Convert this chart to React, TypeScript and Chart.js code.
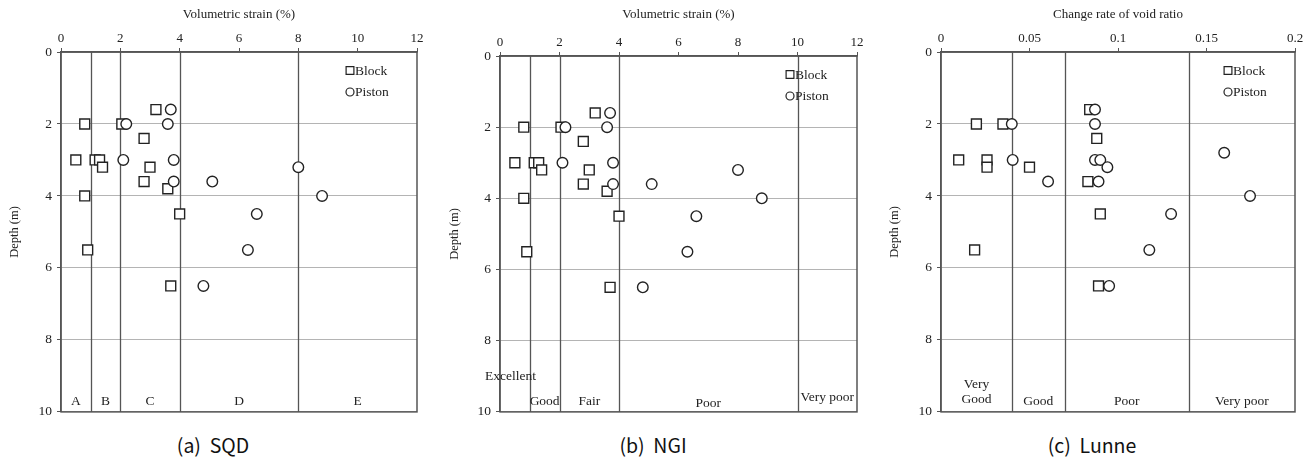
import React, { useEffect, useRef } from 'react';
import { Chart, registerables } from 'chart.js';

Chart.register(...registerables);

// ---------- data ----------
// Panels (a) SQD and (b) NGI share the same measured points
const strainBlockX = [3.2, 0.8, 2.05, 2.8, 0.5, 1.15, 1.3, 1.4, 3.0, 2.8, 3.6, 0.8, 4.0, 0.9, 3.7];
const strainBlockDepth = [1.6, 2, 2, 2.4, 3, 3, 3, 3.2, 3.2, 3.6, 3.8, 4, 4.5, 5.5, 6.5];
const strainPistonX = [3.7, 2.2, 3.6, 2.1, 3.8, 8.0, 3.8, 5.1, 8.8, 6.6, 6.3, 4.8];
const strainPistonDepth = [1.6, 2, 2, 3, 3, 3.2, 3.6, 3.6, 4, 4.5, 5.5, 6.5];

// Panel (c) Lunne
const voidBlockX = [0.084, 0.02, 0.035, 0.088, 0.01, 0.026, 0.026, 0.05, 0.083, 0.09, 0.019, 0.089];
const voidBlockDepth = [1.6, 2, 2, 2.4, 3, 3, 3.2, 3.2, 3.6, 4.5, 5.5, 6.5];
const voidPistonX = [0.087, 0.04, 0.087, 0.16, 0.0405, 0.087, 0.09, 0.094, 0.0605, 0.089, 0.1746, 0.13, 0.1177, 0.095];
const voidPistonDepth = [1.6, 2, 2, 2.8, 3, 3, 3, 3.2, 3.6, 3.6, 4, 4.5, 5.5, 6.5];

// classification boundaries
const sqdBounds = [1, 2, 4, 8];
const ngiBounds = [1, 2, 4, 10];
const lunneBounds = [0.04, 0.07, 0.14];

// zone labels (text, x value, depth value)
const sqdZoneText = ['A', 'B', 'C', 'D', 'E'];
const sqdZoneX = [0.5, 1.5, 3, 6, 10];
const sqdZoneDepth = [9.7, 9.7, 9.7, 9.7, 9.7];

const ngiZoneText = ['Excellent', 'Good', 'Fair', 'Poor', 'Very poor'];
const ngiZoneX = [0.35, 1.5, 3, 7, 11];
const ngiZoneDepth = [9.0, 9.7, 9.7, 9.75, 9.6];

const lunneZoneText = ['Very\nGood', 'Good', 'Poor', 'Very poor'];
const lunneZoneX = [0.02, 0.055, 0.105, 0.17];
const lunneZoneDepth = [9.45, 9.7, 9.72, 9.72];

const strainTitle = 'Volumetric strain (%)';
const voidTitle = 'Change rate of void ratio';
const depthTitle = 'Depth (m)';
const seriesNames = ['Block', 'Piston'];
const captions = ['(a)  SQD', '(b)  NGI', '(c)  Lunne'];

// ---------- styling ----------
const SERIF = '"Liberation Serif", "Times New Roman", serif';
const INK = '#222';
const LINE = '#555';

type PanelSpec = {
  left: number;
  width: number;
  height: number;
  axisLeft: number;
  axisTop: number;
  padRight: number;
  padBottom: number;
  xMax: number;
  xStep: number;
  xTitle: string;
  blockX: number[];
  blockY: number[];
  pistonX: number[];
  pistonY: number[];
  bounds: number[];
  zoneText: string[];
  zoneX: number[];
  zoneY: number[];
};

function makeDecor(spec: PanelSpec) {
  return {
    id: 'panelDecor',
    beforeDatasetsDraw(chart: any) {
      const { ctx, chartArea: a, scales } = chart;
      const x = scales.x;
      const y = scales.y;
      ctx.save();
      ctx.strokeStyle = LINE;
      ctx.lineWidth = 1.3;
      for (const b of spec.bounds) {
        const px = Math.round(x.getPixelForValue(b)) + 0.5;
        ctx.beginPath();
        ctx.moveTo(px, a.top);
        ctx.lineTo(px, a.bottom);
        ctx.stroke();
      }
      ctx.lineWidth = 1.5;
      ctx.strokeRect(a.left, a.top, a.right - a.left, a.bottom - a.top);

      ctx.fillStyle = INK;
      ctx.font = `13.5px ${SERIF}`;
      ctx.textAlign = 'center';
      ctx.textBaseline = 'middle';
      spec.zoneText.forEach((t, i) => {
        const px = x.getPixelForValue(spec.zoneX[i]);
        const py = y.getPixelForValue(spec.zoneY[i]);
        const lines = t.split('\n');
        const lh = 15;
        lines.forEach((ln, k) => {
          ctx.fillText(ln, px, py + (k - (lines.length - 1) / 2) * lh);
        });
      });
      ctx.restore();
    },
    afterDraw(chart: any) {
      const { ctx, chartArea: a } = chart;
      ctx.save();
      const mx = a.right - 67;
      const y1 = a.top + 18.5;
      const y2 = a.top + 40;
      ctx.strokeStyle = INK;
      ctx.lineWidth = 1.2;
      ctx.fillStyle = '#fff';
      ctx.beginPath();
      ctx.rect(mx - 3.9, y1 - 3.9, 7.8, 7.8);
      ctx.fill();
      ctx.stroke();
      ctx.beginPath();
      ctx.arc(mx, y2, 4, 0, Math.PI * 2);
      ctx.fill();
      ctx.stroke();
      ctx.fillStyle = INK;
      ctx.font = `13.5px ${SERIF}`;
      ctx.textAlign = 'left';
      ctx.textBaseline = 'middle';
      ctx.fillText(chart.data.datasets[0].label, mx + 5, y1 + 0.5);
      ctx.fillText(chart.data.datasets[1].label, mx + 5, y2 + 0.5);
      ctx.restore();
    },
  };
}

function Panel({ spec }: { spec: PanelSpec }) {
  const ref = useRef<HTMLCanvasElement | null>(null);
  useEffect(() => {
    if (!ref.current) return;
    const toPts = (xs: number[], ys: number[]) => xs.map((v, i) => ({ x: v, y: ys[i] }));
    const chart = new Chart(ref.current, {
      type: 'scatter',
      data: {
        datasets: [
          {
            label: seriesNames[0],
            data: toPts(spec.blockX, spec.blockY),
            pointStyle: 'rect',
            pointRadius: 7,
            borderColor: INK,
            backgroundColor: '#fff',
            borderWidth: 1.4,
            order: 2,
          },
          {
            label: seriesNames[1],
            data: toPts(spec.pistonX, spec.pistonY),
            pointStyle: 'circle',
            pointRadius: 5.3,
            borderColor: INK,
            backgroundColor: '#fff',
            borderWidth: 1.4,
            order: 1,
          },
        ],
      },
      options: {
        responsive: false,
        animation: false,
        events: [],
        layout: { padding: { left: 0, top: 0, right: spec.padRight, bottom: spec.padBottom } },
        plugins: {
          legend: { display: false },
          tooltip: { enabled: false },
        },
        scales: {
          x: {
            type: 'linear',
            position: 'top',
            min: 0,
            max: spec.xMax,
            afterFit: (s: any) => {
              s.height = spec.axisTop;
            },
            ticks: {
              stepSize: spec.xStep,
              color: INK,
              font: { family: SERIF, size: 13 },
              padding: 2,
              callback: (v: any) => String(+Number(v).toFixed(3)),
            },
            grid: {
              drawOnChartArea: false,
              drawTicks: true,
              tickLength: 4,
              tickColor: LINE,
            },
            border: { display: true, color: LINE, width: 1.5 },
            title: {
              display: true,
              text: spec.xTitle,
              color: INK,
              font: { family: SERIF, size: 13 },
              padding: { top: 7, bottom: 0 },
            },
          },
          y: {
            type: 'linear',
            reverse: true,
            min: 0,
            max: 10,
            afterFit: (s: any) => {
              s.width = spec.axisLeft;
            },
            ticks: {
              stepSize: 2,
              color: INK,
              font: { family: SERIF, size: 13.5 },
              padding: 5,
            },
            grid: {
              color: '#b4b4b4',
              lineWidth: 1,
              drawTicks: true,
              tickLength: 4,
              tickColor: LINE,
            },
            border: { display: true, color: LINE, width: 1.5 },
            title: {
              display: true,
              text: depthTitle,
              color: INK,
              font: { family: SERIF, size: 12.5 },
              padding: { top: 7, bottom: 0 },
            },
          },
        },
      },
      plugins: [makeDecor(spec)],
    } as any);
    return () => chart.destroy();
  }, [spec]);

  return (
    <div style={{ position: 'absolute', left: spec.left, top: 0, width: spec.width, height: spec.height }}>
      <canvas ref={ref} width={spec.width} height={spec.height} style={{ display: 'block' }} />
    </div>
  );
}

const panels: PanelSpec[] = [
  {
    left: 0, width: 440, height: 425, axisLeft: 61, axisTop: 52, padRight: 23, padBottom: 12,
    xMax: 12, xStep: 2, xTitle: strainTitle,
    blockX: strainBlockX, blockY: strainBlockDepth, pistonX: strainPistonX, pistonY: strainPistonDepth,
    bounds: sqdBounds, zoneText: sqdZoneText, zoneX: sqdZoneX, zoneY: sqdZoneDepth,
  },
  {
    left: 440, width: 440, height: 425, axisLeft: 60, axisTop: 56, padRight: 23, padBottom: 12,
    xMax: 12, xStep: 2, xTitle: strainTitle,
    blockX: strainBlockX, blockY: strainBlockDepth, pistonX: strainPistonX, pistonY: strainPistonDepth,
    bounds: ngiBounds, zoneText: ngiZoneText, zoneX: ngiZoneX, zoneY: ngiZoneDepth,
  },
  {
    left: 880, width: 433, height: 425, axisLeft: 61, axisTop: 52, padRight: 18, padBottom: 12,
    xMax: 0.2, xStep: 0.05, xTitle: voidTitle,
    blockX: voidBlockX, blockY: voidBlockDepth, pistonX: voidPistonX, pistonY: voidPistonDepth,
    bounds: lunneBounds, zoneText: lunneZoneText, zoneX: lunneZoneX, zoneY: lunneZoneDepth,
  },
];

const captionCenters = [213, 653, 1092];

export default function App() {
  return (
    <div style={{ position: 'absolute', left: 0, top: 0, width: 1313, height: 459, background: '#fff', overflow: 'hidden' }}>
      {panels.map((p, i) => (
        <Panel key={i} spec={p} />
      ))}
      {captions.map((c, i) => (
        <div
          key={'c' + i}
          style={{
            position: 'absolute',
            left: captionCenters[i] - 100,
            width: 200,
            top: 431,
            textAlign: 'center',
            whiteSpace: 'pre',
            fontFamily: '"Noto Sans CJK KR", "Noto Sans", sans-serif',
            fontSize: 19.5,
            lineHeight: '28px',
            color: '#111',
          }}
        >
          {c}
        </div>
      ))}
    </div>
  );
}
